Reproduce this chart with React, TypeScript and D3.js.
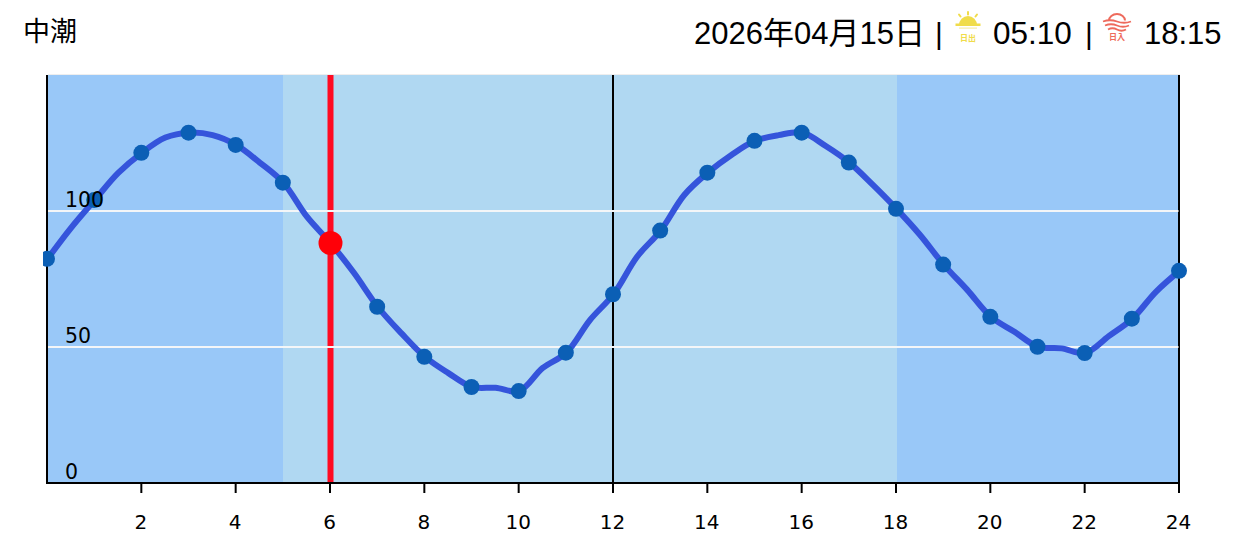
import React from "react";
import * as d3 from "d3";

const hours = [0,1,2,3,4,5,6,7,8,9,10,11,12,13,14,15,16,17,18,19,20,21,22,23,24];
const tide = [82.4,104,121.4,128.8,124.3,110.4,88.2,64.8,46.4,35.3,33.8,47.9,69.4,92.8,114.1,125.8,128.8,117.8,100.8,80.3,61.1,50.1,47.8,60.4,78];
const halfHours = [0.5,1.5,2.5,3.5,4.5,5.5,6.5,7.5,8.5,9.5,10.5,11.5,12.5,13.5,14.5,15.5,16.5,17.5,18.5,19.5,20.5,21.5,22.5,23.5];
const tideHalf = [93.8,114,127,127.9,117.8,97.9,77.2,55.1,40.4,35,42.3,59.9,83.2,105.9,120.6,127.9,123.9,109.6,91.2,71,55.6,49.5,54,70.3];
const xTicks = [2,4,6,8,10,12,14,16,18,20,22,24];
const yTicks = [0,50,100];
const gridValues = [50,100];
const sunrise = 5;
const sunset = 18;
const nowHour = 6;
const nowValue = 88.2;
const noonHour = 12;
const title = "中潮";
const dateText = "2026年04月15日";
const riseText = "05:10";
const setText = "18:15";

const W = 1236, H = 550;
const x = d3.scaleLinear().domain([0,24]).range([47.5,1179.5]);
const y = d3.scaleLinear().domain([0,150]).range([483,75]);
const bx = (h:number)=>Math.round(x(h));
const merged: [number,number][] = [
  ...hours.map((h,i)=>[h,tide[i]] as [number,number]),
  ...halfHours.map((h,i)=>[h,tideHalf[i]] as [number,number]),
].sort((a,b)=>a[0]-b[0]);
const line = d3.line<[number,number]>().x(d=>x(d[0])).y(d=>y(d[1])).curve(d3.curveCatmullRom.alpha(0.5));
const headerFont = "'Liberation Sans','Noto Sans CJK JP',sans-serif";
const axisFont = "'DejaVu Sans',sans-serif";

function SunriseIcon({cx}:{cx:number}){
  const c="#f0dc4a";
  const arc=d3.arc()({innerRadius:0,outerRadius:9,startAngle:-Math.PI/2,endAngle:Math.PI/2}) as string;
  return <g transform={`translate(${cx},0)`}>
    <path d={arc} transform="translate(0,25)" fill={c}/>
    <rect x={-12.5} y={23.5} width={25} height={2.5} fill={c}/>
    <rect x={-9} y={27.5} width={18} height={1.2} fill={c} opacity={0.5}/>
    <g stroke={c} strokeWidth={2} strokeLinecap="round">
      <line x1={0} y1={12} x2={0} y2={14.5}/>
      <line x1={-9} y1={14.5} x2={-7.5} y2={16.5}/>
      <line x1={9} y1={14.5} x2={7.5} y2={16.5}/>
    </g>
    <text x={0} y={40.5} textAnchor="middle" fontSize={8} fontWeight={700} fill={c} fontFamily="'Noto Sans CJK JP',sans-serif">日出</text>
  </g>;
}
function SunsetIcon({cx}:{cx:number}){
  const c="#ee6a5c";
  const wave=(yy:number,w:number)=>`M${-w},${yy}q${w/2},-2.5 ${w},0t${w},0`;
  return <g transform={`translate(${cx},0)`}>
    <path d="M-8,20.5A8,6.5 0 0 1 8,20.5" fill="none" stroke={c} strokeWidth={2}/>
    <g fill="none" stroke={c} strokeWidth={1.8}>
      <path d={wave(21.5,14)}/><path d={wave(25.5,12)}/><path d={wave(29.5,9)}/>
    </g>
    <text x={0} y={39.5} textAnchor="middle" fontSize={8} fontWeight={700} fill={c} fontFamily="'Noto Sans CJK JP',sans-serif">日入</text>
  </g>;
}

export default function App(){
  return <svg width={W} height={H} style={{position:"fixed",left:0,top:0,background:"#fff"}}>
    <defs>
      <clipPath id="dotClip"><rect x={43} y={0} width={W} height={H}/></clipPath>
    </defs>
    <text x={23} y={41} fontSize={27} fontFamily={headerFont} fill="#000">{title}</text>
    <text x={694} y={44} fontSize={31} fontFamily={headerFont} fill="#000">{dateText}</text>
    <text x={935} y={44} fontSize={30} fontFamily={headerFont} fill="#000">|</text>
    <SunriseIcon cx={968}/>
    <text x={993} y={44} fontSize={31.5} fontFamily={headerFont} fill="#000">{riseText}</text>
    <text x={1085} y={44} fontSize={30} fontFamily={headerFont} fill="#000">|</text>
    <SunsetIcon cx={1117}/>
    <text x={1144} y={44} fontSize={31} fontFamily={headerFont} fill="#000">{setText}</text>

    <rect x={bx(0)} y={74} width={bx(24)-bx(0)} height={1} fill="#eeeeee"/>
    <rect x={bx(0)} y={y(150)} width={bx(24)-bx(0)} height={y(0)-y(150)} fill="#99c8f8"/>
    <rect x={bx(sunrise)} y={y(150)} width={bx(sunset)-bx(sunrise)} height={y(0)-y(150)} fill="#b0d8f2"/>

    <rect x={x(nowHour)-3} y={y(150)} width={6} height={y(0)-y(150)} fill="#ff0a22"/>
    <line x1={x(noonHour)-0.5} x2={x(noonHour)-0.5} y1={y(150)} y2={y(0)} stroke="#000" strokeWidth={2}/>
    <line x1={x(24)-0.5} x2={x(24)-0.5} y1={y(150)} y2={y(0)} stroke="#000" strokeWidth={2}/>
    {gridValues.map(v=><line key={v} x1={x(0)} x2={x(24)-1} y1={y(v)} y2={y(v)} stroke="#f4f6f8" strokeWidth={2}/>)}

    <line x1={x(0)-0.5} x2={x(0)-0.5} y1={y(150)} y2={y(0)+1} stroke="#000" strokeWidth={2}/>
    <line x1={x(0)-1} x2={x(24)} y1={y(0)} y2={y(0)} stroke="#000" strokeWidth={2}/>
    {xTicks.map(t=><line key={t} x1={x(t)-0.5} x2={x(t)-0.5} y1={y(0)} y2={y(0)+10} stroke="#000" strokeWidth={2}/>)}

    <g clipPath="url(#dotClip)">
      <path d={line(merged) as string} fill="none" stroke="#3554db" strokeWidth={6} strokeLinejoin="round"/>
      {tide.map((v,i)=><circle key={i} cx={x(hours[i])-0.5} cy={y(v)} r={8} fill="#0b5fb5"/>)}
    </g>
    <circle cx={x(nowHour)} cy={y(nowValue)} r={12} fill="#ff0008"/>

    {xTicks.map(t=><text key={t} x={x(t)-1} y={529} textAnchor="middle" fontSize={20} fontFamily={axisFont} fill="#000">{t}</text>)}
    {yTicks.map(t=><text key={t} x={65} y={y(t)-4} fontSize={20.5} fontFamily={axisFont} fill="#000">{t}</text>)}
  </svg>;
}
